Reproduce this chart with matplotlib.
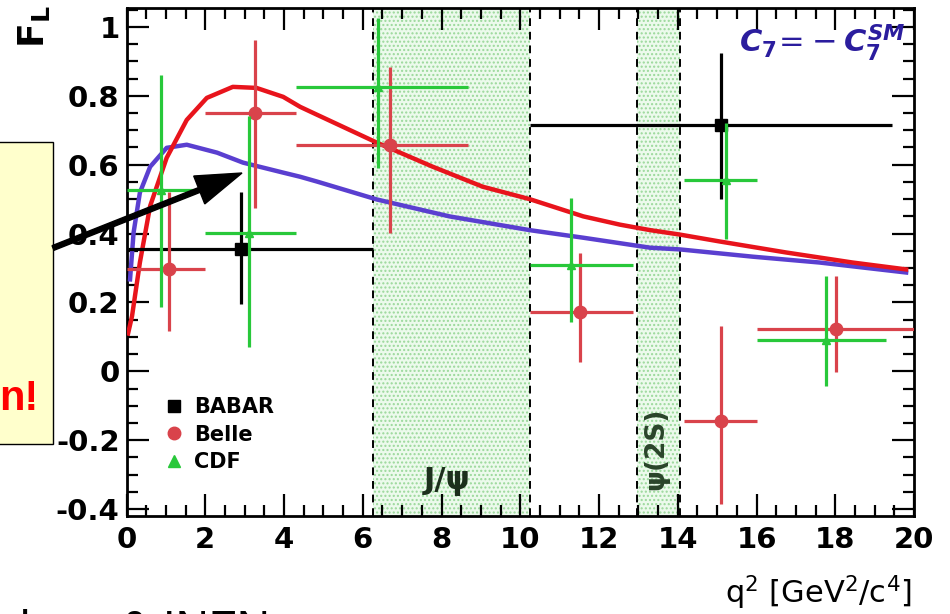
import numpy as np
import matplotlib.pyplot as plt
from matplotlib.patches import Rectangle, FancyArrow
from matplotlib.lines import Line2D
from matplotlib.transforms import IdentityTransform
from matplotlib.ticker import MultipleLocator

plt.rcParams['mathtext.fontset'] = 'custom'
plt.rcParams['mathtext.rm'] = 'DejaVu Sans'
plt.rcParams['mathtext.bf'] = 'DejaVu Sans:bold'
plt.rcParams['mathtext.it'] = 'DejaVu Sans:italic:bold'

# theory curves
red_q2 = [0.04, 0.14, 0.34, 0.6, 1.02, 1.53, 2.04, 2.7, 3.3, 3.98, 4.41, 4.84, 6.36, 7.78,
          9.05, 10.24, 11.6, 12.53, 13.3, 14.06, 15.07, 16.76, 18.44, 19.8]
red_fl = [0.11, 0.16, 0.316, 0.48, 0.62, 0.73, 0.794, 0.826, 0.823, 0.797, 0.768, 0.745, 0.664, 0.594,
          0.536, 0.50, 0.45, 0.426, 0.41, 0.397, 0.377, 0.345, 0.316, 0.296]
blue_q2 = [0.09, 0.18, 0.34, 0.6, 1.02, 1.53, 2.3, 2.96, 3.98, 4.41, 4.84, 6.36, 8.2,
           10.24, 11.6, 13.3, 14.06, 15.9, 17.6, 19.8]
blue_fl = [0.267, 0.403, 0.519, 0.594, 0.649, 0.658, 0.635, 0.606, 0.577, 0.565, 0.551, 0.499, 0.45,
           0.41, 0.388, 0.359, 0.354, 0.333, 0.316, 0.287]

# BABAR
babar_x = [2.92, 15.09]
babar_xlo = [0.05, 10.24]
babar_xhi = [6.25, 19.45]
babar_y = [0.354, 0.716]
babar_ylo = [0.195, 0.50]
babar_yhi = [0.52, 0.925]

# Belle
belle_x = [1.08, 3.27, 6.68, 11.51, 15.09, 18.03]
belle_xlo = [0.0, 2.0, 4.3, 10.24, 14.15, 16.0]
belle_xhi = [2.0, 4.3, 8.68, 12.86, 16.0, 20.0]
belle_y = [0.296, 0.75, 0.658, 0.172, -0.144, 0.122]
belle_ylo = [0.116, 0.475, 0.403, 0.026, -0.386, -0.003]
belle_yhi = [0.52, 0.962, 0.884, 0.345, 0.133, 0.276]

# CDF
cdf_x = [0.87, 3.12, 6.38, 11.3, 15.22, 17.77]
cdf_xlo = [0.0, 2.0, 4.3, 10.24, 14.15, 16.0]
cdf_xhi = [2.0, 4.3, 8.68, 12.86, 16.0, 19.28]
cdf_y = [0.527, 0.403, 0.826, 0.31, 0.557, 0.091]
cdf_ylo = [0.188, 0.07, 0.59, 0.142, 0.383, -0.043]
cdf_yhi = [0.86, 0.74, 1.026, 0.504, 0.72, 0.276]

vetoes = [(6.25, 10.24), (12.96, 14.06)]

fig = plt.figure(figsize=(9.5, 6.14), dpi=100)
ax = fig.add_axes([126.5 / 950, 98 / 614, 787.5 / 950, 508 / 614])
ax.set_xlim(0, 20)
ax.set_ylim(-0.42, 1.055)

for lo, hi in vetoes:
    ax.axvspan(lo, hi, facecolor='#ecfaec', edgecolor='#9ad89a', hatch='....', lw=0, zorder=0)
    ax.axvline(lo, color='black', ls=(0, (4, 3)), lw=1.4, zorder=1)
    ax.axvline(hi, color='black', ls=(0, (4, 3)), lw=1.4, zorder=1)

ax.plot(red_q2, red_fl, color='#e8141c', lw=3.2, zorder=4)
ax.plot(blue_q2, blue_fl, color='#5a3fd0', lw=3.2, zorder=3)


def draw(x, xlo, xhi, y, ylo, yhi, color, marker, ms, z):
    x = np.array(x)
    y = np.array(y)
    xerr = [x - np.array(xlo), np.array(xhi) - x]
    yerr = [y - np.array(ylo), np.array(yhi) - y]
    ax.errorbar(x, y, xerr=xerr, yerr=yerr, fmt=marker, color=color, ms=ms,
                elinewidth=2.3, capsize=0, zorder=z)


draw(babar_x, babar_xlo, babar_xhi, babar_y, babar_ylo, babar_yhi, 'black', 's', 9, 5)
draw(belle_x, belle_xlo, belle_xhi, belle_y, belle_ylo, belle_yhi, '#d9434b', 'o', 9, 6)
draw(cdf_x, cdf_xlo, cdf_xhi, cdf_y, cdf_ylo, cdf_yhi, '#28c83a', '^', 6, 7)

ax.text(8.15, -0.32, 'J/ψ', fontsize=22, fontweight='bold', color='#1c2f1c',
        ha='center', va='center', family='DejaVu Sans')
ax.text(13.45, -0.225, 'ψ(2S)', fontsize=19, fontweight='semibold', color='#2a442a', rotation=90,
        ha='center', va='center', family='DejaVu Sans')
ax.text(19.8, 0.955, r'$C_{\mathbf{7}}\!=\!-C_{\mathbf{7}}^{SM}$', fontsize=22,
        color='#2b1d9e', ha='right', va='center')

handles = [Line2D([], [], ls='none', marker='s', color='black', ms=9),
           Line2D([], [], ls='none', marker='o', color='#d9434b', ms=9),
           Line2D([], [], ls='none', marker='^', color='#28c83a', ms=8)]
ax.legend(handles, ['BABAR', 'Belle', 'CDF'], loc='lower left',
          bbox_to_anchor=(0.02, 0.05), frameon=False,
          prop={'family': 'DejaVu Sans', 'weight': 'bold', 'size': 15},
          handletextpad=0.4, labelspacing=0.35, handlelength=1.2)

ax.xaxis.set_major_locator(MultipleLocator(2))
ax.xaxis.set_minor_locator(MultipleLocator(0.5))
ax.yaxis.set_major_locator(MultipleLocator(0.2))
ax.yaxis.set_minor_locator(MultipleLocator(0.05))
ax.tick_params(which='both', direction='in', top=True, right=True, width=1.6)
ax.tick_params(which='major', length=16)
ax.tick_params(which='minor', length=8)
ax.tick_params(axis='x', pad=7)
ax.tick_params(axis='y', pad=5)
ax.set_yticks([-0.4, -0.2, 0, 0.2, 0.4, 0.6, 0.8, 1.0])
ax.set_yticklabels(['-0.4', '-0.2', '0', '0.2', '0.4', '0.6', '0.8', '1'])
for lab in ax.get_xticklabels() + ax.get_yticklabels():
    lab.set_fontsize(21)
    lab.set_fontweight('bold')
    lab.set_family('DejaVu Sans')
for s in ax.spines.values():
    s.set_linewidth(2)

fig.text(34 / 950, 1 - 27 / 614, r'$\mathbf{F_L}$', fontsize=26, rotation=90,
         ha='center', va='center')
fig.text(912 / 950, (614 - 603) / 614, r'q$^2$ [GeV$^2$/c$^4$]', fontsize=22,
         ha='right', va='baseline', family='DejaVu Sans', fontweight='medium')

# slide box on the left and arrow
fig.patches.append(Rectangle((-5 / 950, (614 - 444) / 614), 58 / 950, 302 / 614,
                             transform=fig.transFigure, facecolor='#ffffcc',
                             edgecolor='black', lw=1, zorder=1))
fig.text(38 / 950, (614 - 410) / 614, 'n!', color='#ff0000', fontsize=30,
         fontweight='bold', ha='right', va='baseline', family='Liberation Sans')
fig.patches.append(FancyArrow(53, 614 - 248, 242 - 53, 248 - 173, width=5,
                              head_width=30, head_length=46, length_includes_head=True,
                              color='black', transform=IdentityTransform(), zorder=10))
fig.text(20 / 950, (614 - 643) / 614, 'lano & INFN', fontsize=33, color='black',
         ha='left', va='baseline', family='Liberation Sans')

fig.savefig('out.png', dpi=100)
